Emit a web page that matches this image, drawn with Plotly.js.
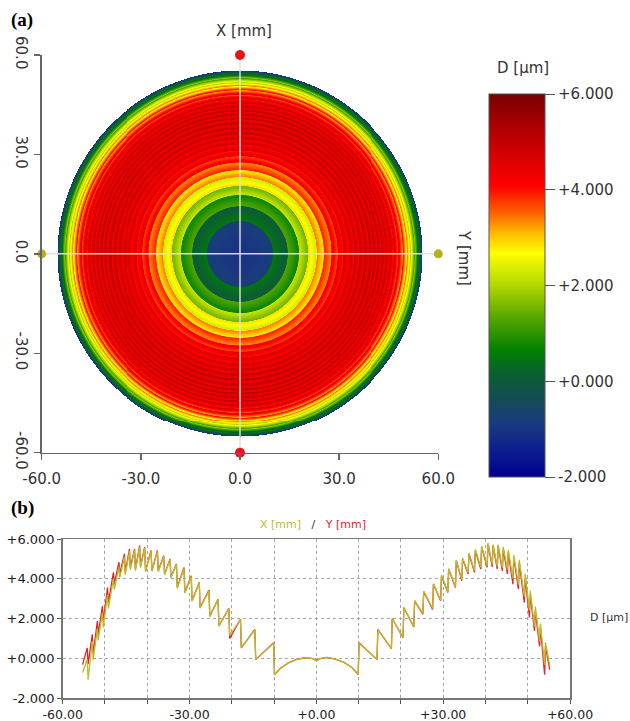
<!DOCTYPE html>
<html><head><meta charset="utf-8">
<script src="https://cdn.plot.ly/plotly-3.0.1.min.js"></script>
<style>html,body{margin:0;padding:0;background:#fff}</style>
</head><body><div id="chart" style="width:630px;height:721px"></div>
<script>
// Profile positions [mm]
const posX = [
 -55.3, -54.2, -54.0, -53.0, -52.8, -51.8, -51.6, -50.6,
 -50.4, -49.4, -49.2, -48.0, -47.8, -46.7, -46.5, -45.4,
 -45.2, -44.2, -44.0, -43.0, -42.8, -41.8, -41.6, -40.6,
 -40.4, -39.1, -38.9, -37.6, -37.4, -36.1, -35.9, -34.6,
 -34.4, -33.1, -32.9, -31.3, -31.1, -29.6, -29.4, -27.7,
 -27.5, -25.4, -25.2, -23.25, -23.05, -20.7, -20.5, -17.95,
 -17.75, -14.55, -14.35, -10.1, -9.9, -8.5, -6.5, -4.5,
 -2.5, -0.7, 0, 0.7, 2.5, 4.5, 6.5, 8.5,
 9.9, 10.1, 14.35, 14.55, 17.75, 17.95, 20.5, 20.7,
 23.05, 23.25, 25.2, 25.4, 27.5, 27.7, 29.4, 29.6,
 31.1, 31.3, 32.9, 33.1, 34.4, 34.6, 35.9, 36.1,
 37.4, 37.6, 38.9, 39.1, 40.4, 40.6, 41.6, 41.8,
 42.8, 43.0, 44.0, 44.2, 45.2, 45.4, 46.5, 46.7,
 47.8, 48.0, 49.2, 49.4, 50.4, 50.6, 51.6, 51.8,
 52.8, 53.0, 54.0, 54.2, 55.2
];
// D [µm] along Y [mm] (red)
const profY = [
 -0.32, 0.52, -0.30, 1.20, 0.19, 1.87, 1.20, 2.63,
 1.87, 3.56, 2.80, 4.32, 3.73, 4.83, 4.24, 5.25,
 4.32, 5.50, 4.57, 5.50, 4.49, 5.67, 4.66, 5.59,
 4.40, 5.42, 4.40, 5.42, 4.40, 5.16, 4.24, 5.00,
 4.07, 4.74, 3.56, 4.57, 3.31, 4.15, 2.89, 3.81,
 2.55, 3.43, 2.12, 2.97, 1.62, 2.51, 1.00, 1.96,
 0.52, 1.45, -0.07, 0.78, -0.83, -0.50, -0.22, -0.05,
 0.03, -0.03, -0.12, -0.03, 0.04, -0.04, -0.20, -0.48,
 -0.82, 0.78, -0.07, 1.45, 0.49, 2.00, 1.03, 2.55,
 1.57, 2.89, 2.21, 3.36, 2.46, 3.73, 2.89, 4.15,
 3.31, 4.49, 3.56, 4.91, 3.90, 5.00, 4.24, 5.25,
 4.32, 5.42, 4.49, 5.59, 4.57, 5.75, 4.60, 5.67,
 4.49, 5.67, 4.40, 5.50, 4.24, 5.33, 3.73, 5.08,
 3.48, 4.82, 2.80, 4.07, 2.05, 3.20, 1.37, 2.40,
 0.60, 1.54, -0.83, 0.60, -0.57
];
// D [µm] along X [mm] (olive)
const profX = [
 -0.73, -0.05, -1.08, 0.85, -0.10, 1.50, 0.90, 2.30,
 1.55, 3.20, 2.50, 4.00, 3.45, 4.60, 4.05, 5.10,
 4.20, 5.40, 4.45, 5.45, 4.40, 5.60, 4.55, 5.55,
 4.35, 5.40, 4.38, 5.38, 4.35, 5.12, 4.20, 4.98,
 4.05, 4.72, 3.52, 4.52, 3.28, 4.12, 2.87, 3.80,
 2.52, 3.40, 2.10, 2.95, 1.62, 2.50, 1.15, 1.95,
 0.52, 1.43, -0.07, 0.76, -0.83, -0.50, -0.22, -0.05,
 0.03, -0.02, -0.14, -0.02, 0.04, -0.04, -0.20, -0.48,
 -0.80, 0.76, -0.05, 1.43, 0.50, 1.98, 1.05, 2.53,
 1.60, 2.90, 2.25, 3.38, 2.50, 3.75, 2.92, 4.18,
 3.35, 4.52, 3.60, 4.95, 3.95, 5.05, 4.30, 5.30,
 4.40, 5.48, 4.58, 5.65, 4.65, 5.80, 4.72, 5.72,
 4.62, 5.72, 4.55, 5.60, 4.45, 5.45, 4.00, 5.20,
 3.70, 4.95, 3.10, 4.25, 2.40, 3.40, 1.60, 2.60,
 0.86, 1.75, -0.33, 0.80, -0.35
];
// Map: radial D [µm] (a)
const mapR = [
 0, 5, 9.9,
 10.1, 14.35, 14.55, 17.75, 17.95, 20.5, 20.7, 23.05,
 23.25, 25.2, 25.4, 27.5, 27.7, 29.4, 29.6, 31.1,
 31.3, 32.9, 33.1, 34.4, 34.6, 35.9, 36.1, 37.4,
 37.6, 38.9, 39.1, 40.4, 40.6, 41.6, 41.8, 42.8,
 43.0, 44.0, 44.2, 45.2, 45.4, 46.5, 46.7, 47.8,
 48.0, 49.2, 49.4, 50.4, 50.6, 51.6, 51.8, 52.8,
 53.0, 54.0, 54.2, 55.2
];
const mapD = [
 -1.0, -0.95, -0.75,
 0.5, 0.0, 1.3, 0.7, 2.2, 1.5, 2.9, 2.3,
 3.4, 2.8, 3.9, 3.3, 4.3, 3.7, 4.5, 3.95,
 4.7, 4.05, 4.85, 4.1, 4.95, 4.15, 5.05, 4.2,
 5.1, 4.2, 5.15, 4.2, 5.15, 4.2, 5.15, 4.2,
 5.1, 4.15, 5.05, 4.1, 4.95, 3.95, 4.8, 3.6,
 4.5, 3.2, 4.1, 2.6, 3.5, 2.0, 2.7, 1.2,
 1.8, 0.1, 0.6, -1.2
];
const mapTickVals = [-60, -30, 0, 30, 60];
const mapTickText = ['-60.0', '-30.0', '0.0', '30.0', '60.0'];
const cbTickVals = [-2, 0, 2, 4, 6];
const cbTickText = ['-2.000', '+0.000', '+2.000', '+4.000', '+6.000'];
const profXTickVals = [-60, -50, -40, -30, -20, -10, 0, 10, 20, 30, 40, 50, 60];
const profXTickText = ['-60.00', '', '', '-30.00', '', '', '+0.00', '', '', '+30.00', '', '', '+60.00'];
const profYTickVals = [-2, 0, 2, 4, 6];
const profYTickText = ['-2.000', '+0.000', '+2.000', '+4.000', '+6.000'];
const xMarkerPts = {x: [0, 0], y: [60, -60]};
const yMarkerPts = {x: [-60, 60], y: [0, 0]};

const discRadius = mapR[mapR.length - 1];
function radial(r) {
  if (r > discRadius) return null;
  for (let k = 1; k < mapR.length; k++) {
    if (r <= mapR[k]) {
      const t = (r - mapR[k-1]) / (mapR[k] - mapR[k-1]);
      return mapD[k-1] + t * (mapD[k] - mapD[k-1]);
    }
  }
  return mapD[mapD.length - 1];
}
const step = 0.3;
const gx = [];
for (let v = -discRadius; v <= discRadius + 1e-9; v += step) gx.push(+v.toFixed(3));
const gz = gx.map(yy => gx.map(xx => radial(Math.hypot(xx, yy))));

const W = 630, H = 721;
const px = v => v / W, py = v => 1 - v / H;

const cscale = [
  [0.00, '#00008c'], [0.06, '#0a1a90'], [0.14, '#1a3a80'], [0.22, '#12504c'],
  [0.27, '#0a6030'], [0.33, '#008000'], [0.42, '#5aa800'], [0.50, '#b0d800'],
  [0.585, '#ffff00'], [0.64, '#ffb400'], [0.69, '#ff6000'], [0.76, '#ff0000'],
  [0.88, '#c00000'], [1.00, '#780000']
];

const F = 'DejaVu Sans, Verdana, sans-serif';
const traces = [
  {type: 'heatmap', x: gx, y: gx, z: gz, zmin: -2, zmax: 6, colorscale: cscale,
   xaxis: 'x', yaxis: 'y', hoverinfo: 'skip',
   colorbar: {x: px(489), xanchor: 'left', xpad: 0, y: py(477), yanchor: 'bottom', ypad: 0,
     len: (477 - 94) / H, lenmode: 'fraction', thickness: 56, thicknessmode: 'pixels',
     outlinewidth: 1, outlinecolor: '#555', ticks: 'outside', ticklen: 10, tickwidth: 1, tickcolor: '#555',
     tickvals: cbTickVals, ticktext: cbTickText, tickfont: {family: F, size: 15, color: '#333'}}},
  {type: 'scatter', mode: 'lines', x: xMarkerPts.x, y: xMarkerPts.y, xaxis: 'x', yaxis: 'y',
   line: {color: 'rgba(225,225,225,0.95)', width: 1.5}, hoverinfo: 'skip'},
  {type: 'scatter', mode: 'lines', x: yMarkerPts.x, y: yMarkerPts.y, xaxis: 'x', yaxis: 'y',
   line: {color: 'rgba(225,225,225,0.95)', width: 1.5}, hoverinfo: 'skip'},
  {type: 'scatter', mode: 'markers', x: xMarkerPts.x, y: xMarkerPts.y, xaxis: 'x', yaxis: 'y',
   marker: {color: '#e8141c', size: 10}, cliponaxis: false, hoverinfo: 'skip'},
  {type: 'scatter', mode: 'markers', x: yMarkerPts.x, y: yMarkerPts.y, xaxis: 'x', yaxis: 'y',
   marker: {color: '#b8b219', size: 9}, cliponaxis: false, hoverinfo: 'skip'},
  {type: 'scatter', mode: 'lines', x: posX, y: profY, xaxis: 'x2', yaxis: 'y2',
   line: {color: '#e3232a', width: 1.3}, hoverinfo: 'skip'},
  {type: 'scatter', mode: 'lines', x: posX, y: profX, xaxis: 'x2', yaxis: 'y2',
   line: {color: '#bdbb2a', width: 1.3}, hoverinfo: 'skip'}
];

const axLine = '#666';
const ann = (text, x, y, size, extra) => Object.assign({text, x: px(x), y: py(y), xref: 'paper', yref: 'paper',
  xanchor: 'center', yanchor: 'middle', showarrow: false, font: {family: F, size, color: '#333'}}, extra || {});
const layout = {
  width: W, height: H, margin: {l: 0, r: 0, t: 0, b: 0},
  paper_bgcolor: '#fff', plot_bgcolor: 'rgba(0,0,0,0)', showlegend: false,
  font: {family: F, color: '#333'},
  xaxis: {domain: [px(41.7), px(438.3)], anchor: 'y', range: [-60, 60], showgrid: false, zeroline: false,
    showline: true, linecolor: axLine, linewidth: 1.5, ticks: 'outside', ticklen: 6, tickwidth: 1.5, tickcolor: axLine,
    tickvals: mapTickVals, ticktext: mapTickText, tickfont: {family: F, size: 15, color: '#333'}, ticklabelstandoff: 6},
  yaxis: {domain: [py(452.7), py(55)], anchor: 'x', range: [-60, 60], showgrid: false, zeroline: false,
    showline: true, linecolor: axLine, linewidth: 1.5, ticks: 'outside', ticklen: 6, tickwidth: 1.5, tickcolor: axLine,
    tickvals: mapTickVals, ticktext: mapTickText, tickangle: 90, tickfont: {family: F, size: 15, color: '#333'}},
  xaxis3: {overlaying: 'x', anchor: 'y', range: [-60, 60], showgrid: false, zeroline: false, showline: false,
    ticks: 'inside', ticklen: 6, tickwidth: 1.5, tickcolor: axLine, tickvals: mapTickVals, showticklabels: false},
  yaxis3: {overlaying: 'y', anchor: 'x', range: [-60, 60], showgrid: false, zeroline: false, showline: false,
    ticks: 'inside', ticklen: 6, tickwidth: 1.5, tickcolor: axLine, tickvals: mapTickVals, showticklabels: false},
  xaxis2: {domain: [px(62.7), px(570)], anchor: 'y2', range: [-60, 60], zeroline: false,
    showline: true, mirror: true, linecolor: '#777', linewidth: 1.5,
    showgrid: true, gridcolor: '#a5a5a5', griddash: 'dot', gridwidth: 1,
    ticks: 'outside', ticklen: 4, tickwidth: 1, tickcolor: '#555',
    tickvals: profXTickVals, ticktext: profXTickText, tickfont: {family: F, size: 12.5, color: '#222'}},
  yaxis2: {domain: [py(698), py(539)], anchor: 'x2', range: [-2, 6], zeroline: false,
    showline: true, mirror: true, linecolor: '#777', linewidth: 1.5,
    showgrid: true, gridcolor: '#a5a5a5', griddash: 'dot', gridwidth: 1,
    ticks: 'outside', ticklen: 4, tickwidth: 1, tickcolor: '#555',
    tickvals: profYTickVals, ticktext: profYTickText, tickfont: {family: F, size: 13, color: '#222'}},
  annotations: [
    ann('<b>(a)</b>', 22, 20, 19, {font: {family: 'Liberation Serif, Times New Roman, serif', size: 19, color: '#000'}}),
    ann('<b>(b)</b>', 22, 508, 19, {font: {family: 'Liberation Serif, Times New Roman, serif', size: 19, color: '#000'}}),
    ann('X [mm]', 244, 31, 15),
    ann('Y [mm]', 464, 258, 15, {textangle: 90}),
    ann('D [µm]', 523, 68, 15),
    ann('<span style="color:#bdbb2a">X [mm]</span>   /   <span style="color:#e3232a">Y [mm]</span>', 313, 524, 11),
    ann('D [µm]', 609, 617, 11)
  ]
};
Plotly.newPlot('chart', traces, layout, {displayModeBar: false, staticPlot: true});
</script></body></html>
